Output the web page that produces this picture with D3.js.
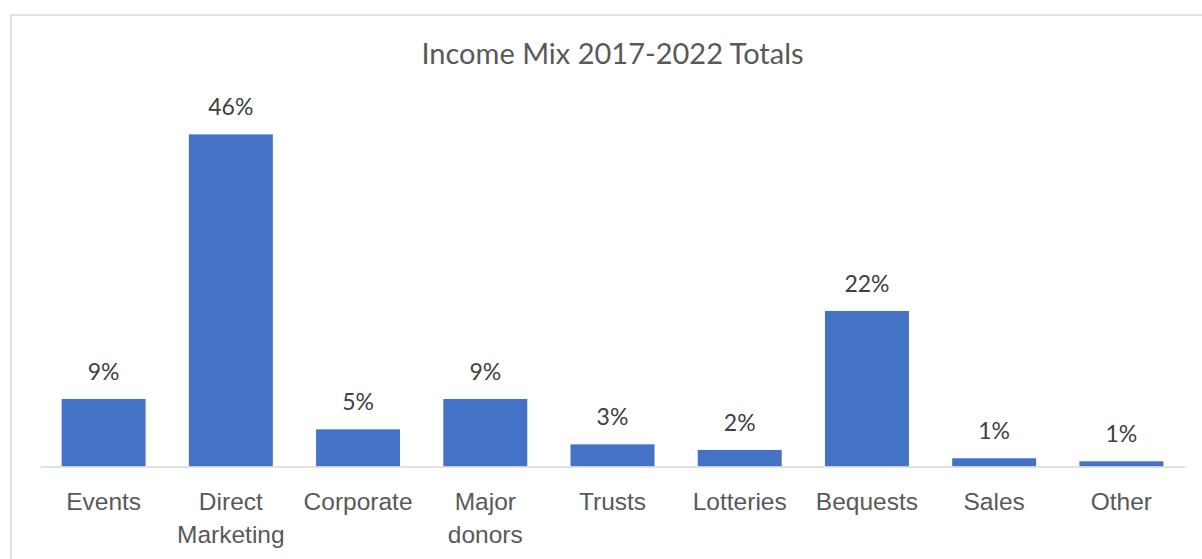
<!DOCTYPE html>
<html>
<head>
<meta charset="utf-8">
<script src="https://cdn.jsdelivr.net/npm/d3@7"></script>
<style>
  html, body { margin: 0; padding: 0; background: #fff; }
  svg { display: block; font-family: Lato, "Open Sans", sans-serif; }
</style>
</head>
<body>
<svg id="chart" width="1202" height="559"></svg>
<script>
// Income share by source, 2017-2022 combined
const categories = ["Events", "Direct Marketing", "Corporate", "Major donors", "Trusts", "Lotteries", "Bequests", "Sales", "Other"];
const shares = [0.0935, 0.46, 0.0515, 0.0935, 0.0307, 0.0229, 0.2154, 0.0114, 0.0072];
const yDomain = [0, 0.5];
const title = "Income Mix 2017-2022 Totals";

const svg = d3.select("#chart");
const W = 1202, H = 559;
const plot = { left: 40, right: 1185, top: 105.5, bottom: 466.5 };

// chart frame
svg.append("rect")
  .attr("x", 11).attr("y", 15)
  .attr("width", W + 10).attr("height", H + 10)
  .attr("fill", "#fff")
  .attr("stroke", "#d9d9d9").attr("stroke-width", 1.5);

const x = d3.scaleBand()
  .domain(categories)
  .range([plot.left, plot.right])
  .paddingInner(0.34)
  .paddingOuter(0.17);

const y = d3.scaleLinear().domain(yDomain).range([plot.bottom, plot.top]);

// title
svg.append("text")
  .attr("x", 612.5).attr("y", 63.5)
  .attr("text-anchor", "middle")
  .attr("font-size", 29)
  .attr("fill", "#595959")
  .text(title);

const data = categories.map((c, i) => ({ cat: c, v: shares[i] }));

// bars
svg.append("g").selectAll("rect")
  .data(data)
  .join("rect")
  .attr("x", d => x(d.cat))
  .attr("width", x.bandwidth())
  .attr("y", d => y(d.v))
  .attr("height", d => y(0) - y(d.v))
  .attr("fill", "#4472c4");

// category axis: baseline line plus wrapped labels
const axis = d3.axisBottom(x).tickSize(0).tickSizeOuter(0).tickPadding(0);
const gx = svg.append("g")
  .attr("transform", `translate(0,${y(0)})`)
  .call(axis);
gx.select(".domain").attr("stroke", "#d9d9d9").attr("stroke-width", 1.5);
gx.selectAll(".tick text").remove();

const fmt = d3.format(".0%");
const catSize = 24.5;
const valueSize = 23;

gx.selectAll(".tick").each(function(d) {
  const g = d3.select(this);
  const t = g.append("text")
    .attr("text-anchor", "middle")
    .attr("font-size", catSize)
    .attr("fill", "#595959")
    .attr("y", 43.5)
    .text(d);
  // wrap onto two lines when the name is wider than the band
  if (t.node().getComputedTextLength() > x.step() - 6 && d.includes(" ")) {
    const words = d.split(" ");
    t.text(null);
    words.forEach((w, i) => {
      t.append("tspan").attr("x", 0).attr("y", 43.5 + i * 33).text(w);
    });
  }
});

// value labels
svg.append("g").selectAll("text")
  .data(data)
  .join("text")
  .attr("x", d => x(d.cat) + x.bandwidth() / 2)
  .attr("y", d => y(d.v) - 19)
  .attr("text-anchor", "middle")
  .attr("font-size", valueSize)
  .attr("fill", "#404040")
  .text(d => fmt(d.v));
</script>
</body>
</html>
